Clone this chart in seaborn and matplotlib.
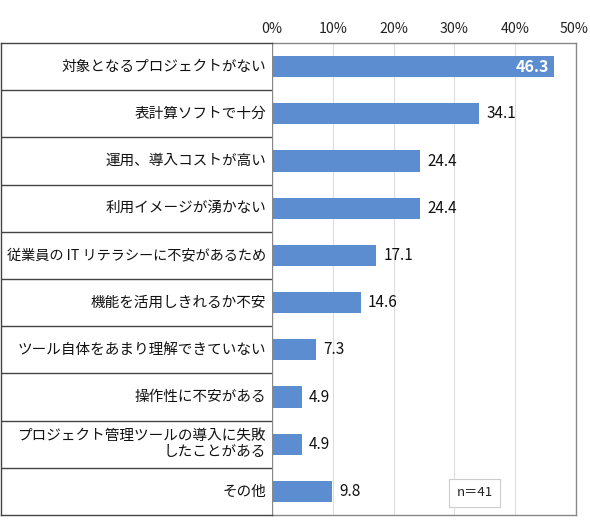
import matplotlib
matplotlib.use("Agg")
import matplotlib.pyplot as plt
import matplotlib.transforms as mtransforms
import seaborn as sns
import pandas as pd
import numpy as np

categories = [
    "対象となるプロジェクトがない",
    "表計算ソフトで十分",
    "運用、導入コストが高い",
    "利用イメージが湧かない",
    "従業員の IT リテラシーに不安があるため",
    "機能を活用しきれるか不安",
    "ツール自体をあまり理解できていない",
    "操作性に不安がある",
    "プロジェクト管理ツールの導入に失敗\nしたことがある",
    "その他",
]
values = [46.3, 34.1, 24.4, 24.4, 17.1, 14.6, 7.3, 4.9, 4.9, 9.8]
xticks = [0, 10, 20, 30, 40, 50]
xticklabels = ["0%", "10%", "20%", "30%", "40%", "50%"]
note = "n＝41"

sns.set_theme(style="white")
plt.rcParams["font.family"] = ["Noto Sans CJK JP", "DejaVu Sans"]

df = pd.DataFrame({"cat": categories, "val": values})

W, H = 590, 531
fig = plt.figure(figsize=(W / 100, H / 100), dpi=100)
left, right, top, bottom = 272 / W, 576 / W, 1 - 43 / H, 1 - 515 / H
ax = fig.add_axes([left, bottom, right - left, top - bottom])
bar_color = "#5B8DD0"
sns.barplot(data=df, y="cat", x="val", orient="h", color=bar_color,
            width=0.45, saturation=1, ax=ax, edgecolor="none")
n = len(categories)
ax.set_xlim(0, 50)
ax.set_ylim(n - 0.5, -0.5)
ax.xaxis.tick_top()
ax.set_xticks(xticks)
ax.set_xticklabels(xticklabels, fontsize=10.2, color="#222222")
ax.tick_params(axis="x", length=0, pad=5)
lbls = ax.get_xticklabels()
lbls[-1].set_transform(lbls[-1].get_transform() +
                       mtransforms.ScaledTranslation(-2 / 100, 0, fig.dpi_scale_trans))
ax.set_yticks([])
ax.set_xlabel("")
ax.set_ylabel("")
for xv in xticks[1:-1]:
    ax.axvline(xv, color="#DDDDDD", lw=0.8, zorder=0)
for s in ax.spines.values():
    s.set_color("#888888")
    s.set_linewidth(1.0)

for i, v in enumerate(values):
    if i == 0:
        ax.text(v - 0.8, i, f"{v:.1f}", ha="right", va="center", color="white",
                fontsize=11.5, fontweight="bold")
    else:
        ax.text(v + 1.2, i, f"{v:.1f}", ha="left", va="center", color="#111111",
                fontsize=11)

ax.text(0.666, 0.047, note, transform=ax.transAxes, ha="center", va="center",
        fontsize=9.5, color="#222222",
        bbox=dict(boxstyle="square,pad=0.55", fc="white", ec="#CCCCCC", lw=0.8))

# label panel
lax = fig.add_axes([1 / W, bottom, left - 1 / W, top - bottom])
lax.set_xlim(0, 1)
lax.set_ylim(n - 0.5, -0.5)
lax.set_xticks([])
lax.set_yticks([])
for s in lax.spines.values():
    s.set_color("#444444")
    s.set_linewidth(1.0)
lax.spines["right"].set_visible(False)
for b in np.arange(0.5, n - 0.5, 1.0):
    lax.axhline(b, color="#444444", lw=1.0)
for i, c in enumerate(categories):
    fs = 10.2 if i == 4 else 10.5
    lax.text(0.978, i, c, ha="right", va="center", fontsize=fs,
             color="#111111", linespacing=1.15)

fig.savefig("out.png", dpi=100, facecolor="white")
